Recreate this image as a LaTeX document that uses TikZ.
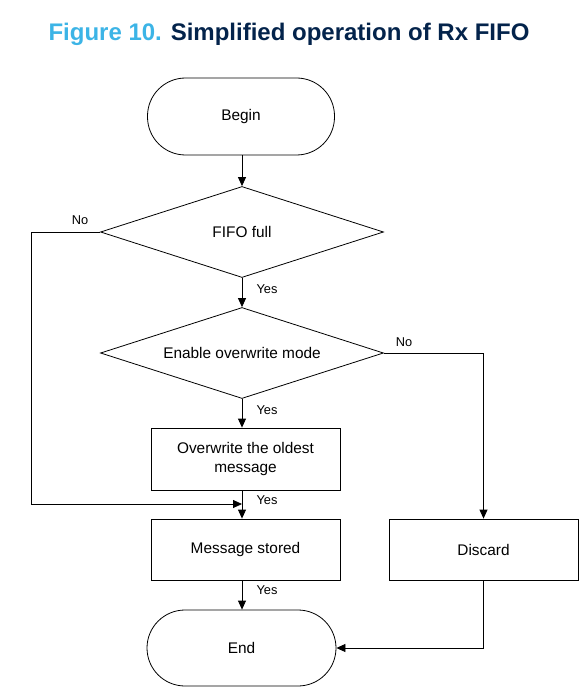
\documentclass[tikz,border=0pt]{standalone}
\usepackage{fontspec}
\setmainfont{Liberation Sans}
\usetikzlibrary{shapes.geometric,arrows.meta}
\definecolor{stlight}{HTML}{3CB4E6}
\definecolor{stdark}{HTML}{03234B}
\tikzset{
  base/.style={draw=black, line width=0.8pt, font=\fontsize{15.4}{19.5}\selectfont, align=center, inner sep=0pt},
  term/.style={base, rectangle, rounded corners=38pt, minimum width=187pt, minimum height=77pt},
  decision/.style={base, diamond, minimum width=283pt, minimum height=91pt, shape aspect=3.1},
  proc/.style={base, rectangle, minimum width=189pt, minimum height=61pt},
  conn/.style={line width=0.8pt, -{Triangle[length=9pt,width=8pt]}},
  lbl/.style={font=\fontsize{12.8}{14}\selectfont, inner sep=0pt}
}
\begin{document}
\begin{tikzpicture}[x=1pt,y=-1pt]
\useasboundingbox (0,0) rectangle (588,695);
\node[anchor=base, inner sep=0pt, font=\bfseries\fontsize{24}{28}\selectfont] (title) at (289,41)
  {\textcolor{stlight}{Figure 10.} \textcolor{stdark}{Simplified operation of Rx FIFO}};
\node[term] (begin) at (241,116.5) {Begin};
\node[decision] (fifo) at (242,232) {FIFO full};
\node[decision] (ovm) at (242,353) {Enable overwrite mode};
\node[proc, minimum height=62pt] (ovw) at (245.5,459) {Overwrite the oldest\\message};
\node[proc] (msg) at (245.5,549.5) {Message stored};
\node[proc] (disc) at (483.5,549.5) {Discard};
\node[term, minimum width=189pt, minimum height=76pt] (end) at (241.5,648) {End};
\coordinate (lft) at (31,232);
\coordinate (jn) at (242,504);
\draw[conn] (begin.south -| fifo.north) -- (fifo.north);
\draw[conn] (fifo.south) -- (ovm.north);
\draw[conn] (ovm.south) -- (ovm.south |- ovw.north);
\draw[conn] (ovm.south |- ovw.south) -- (ovm.south |- msg.north);
\draw[conn] (fifo.west) -- (lft) |- (jn);
\draw[conn] (ovm.east) -| (disc.north);
\draw[conn] (ovm.south |- msg.south) -- (ovm.south |- end.north);
\draw[conn] (disc.south) |- (end.east);
\node[lbl] (l1) at (80,220) {No};
\node[lbl] (l2) at (267,289) {Yes};
\node[lbl] (l3) at (404,342) {No};
\node[lbl] (l4) at (267,410) {Yes};
\node[lbl] (l5) at (267,500) {Yes};
\node[lbl] (l6) at (267,590) {Yes};
\end{tikzpicture}
\end{document}
